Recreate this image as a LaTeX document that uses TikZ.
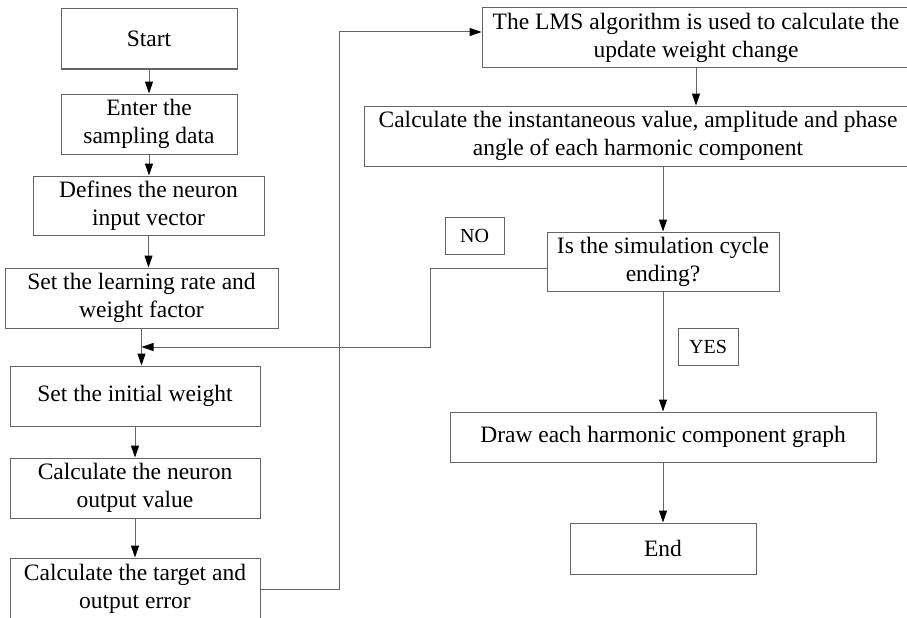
\documentclass[tikz,border=0pt]{standalone}
\usepackage{fontspec}
\setmainfont{Liberation Serif}
\usetikzlibrary{calc,arrows.meta}
\definecolor{linegray}{RGB}{100,100,100}
\newcommand{\flowfont}{\fontsize{23.5}{28}\selectfont}
\newcommand{\tagfont}{\fontsize{20}{24}\selectfont}
\tikzset{block/.style={draw=linegray, minimum height=60pt, inner sep=0pt,
                       align=center, font=\flowfont},
         tag/.style={draw=linegray, minimum width=59pt, minimum height=37pt,
                     inner sep=0pt, font=\tagfont},
         flow/.style={draw=linegray, -{Triangle[length=12pt,width=8pt,color=black]}}}

\begin{document}
\begin{tikzpicture}[x=1pt,y=-1pt,line width=1pt]
		\useasboundingbox (0,0) rectangle (907,618);
		% left column
		\node [block,minimum width=176pt] (start) at (149,39) {Start};
		\node [block,minimum width=176pt] (enter) at (149,124) {Enter the\\sampling data};
		\node [block,minimum width=231pt,minimum height=59pt] (define) at (148.5,205.5) {Defines the neuron\\input vector};
		\node [block,minimum width=273pt] (rate) at (141.5,298) {Set the learning rate and\\weight factor};
		\node [block,minimum width=250pt] (init) at (135,396) {Set the initial weight};
		\node [block,minimum width=250pt] (output) at (135,488) {Calculate the neuron\\output value};
		\node [block,minimum width=250pt,minimum height=62pt] (error) at (135,589) {Calculate the target and\\output error};
		% right column
		\node [block,minimum width=428pt] (lms) at (696,38) {The LMS algorithm is used to calculate the\\update weight change};
		\node [block,minimum width=548pt] (calc) at (638,136) {Calculate the instantaneous value, amplitude and phase\\angle of each harmonic component};
		\node [block,minimum width=232pt,minimum height=59pt] (decide) at (663,261.5) {Is the simulation cycle\\ending?};
		\node [block,minimum width=426pt,minimum height=50pt] (graph) at (663,437) {Draw each harmonic component graph};
		\node [block,minimum width=186pt,minimum height=51pt] (stop) at (663,548.5) {End};
		\node [tag] (notag) at (474.5,235.5) {NO};
		\node [tag,minimum width=60pt] (yestag) at (708,346.5) {YES};
		\coordinate (merge) at ($(rate.south)!0.5!(rate.south |- init.north)$);
		% connectors
		\draw [flow] (start) -- (enter);
		\draw [flow] (enter.south) -- (enter.south |- define.north);
		\draw [flow] (define.south) -- (define.south |- rate.north);
		\draw [flow] (rate.south) -- (rate.south |- init.north);
		\draw [flow] (init) -- (output);
		\draw [flow] (output) -- (error);
		\draw [flow] (error.east) -- ++(79,0) |- ([yshift=6pt]lms.west);
		\draw [flow] (lms.south) -- (lms.south |- calc.north);
		\draw [flow] (decide.north |- calc.south) -- (decide.north);
		\draw [flow] ([yshift=-6.5pt]decide.west) -- ++(-116,0) |- (merge);
		\draw [flow] (decide) -- (graph);
		\draw [flow] (graph) -- (stop);
	\end{tikzpicture}
\end{document}
